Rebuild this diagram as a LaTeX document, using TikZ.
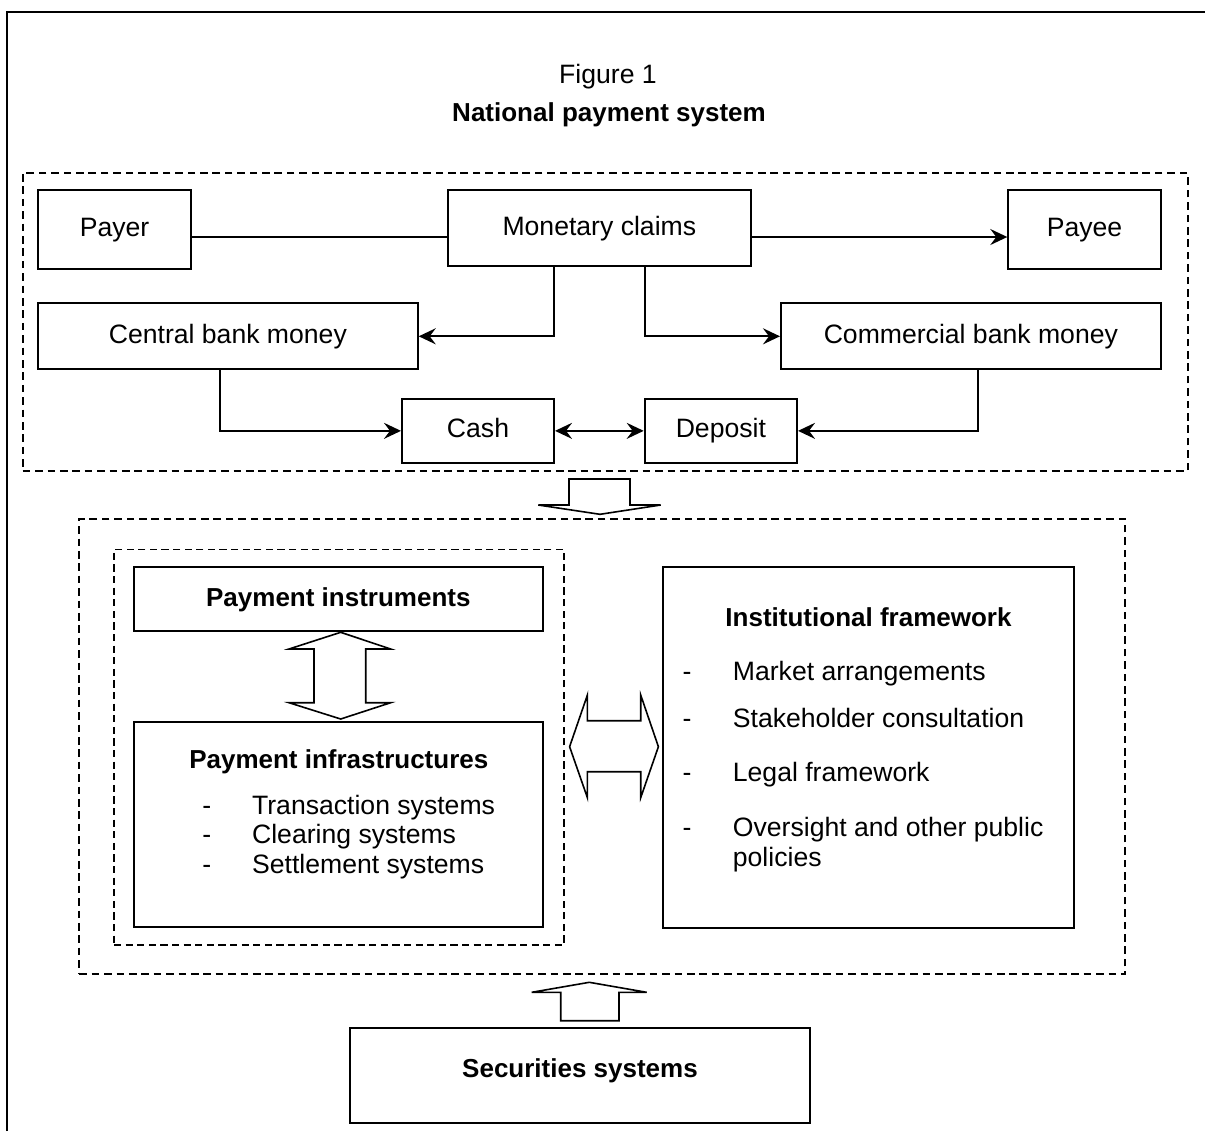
\documentclass[tikz,border=0pt]{standalone}
\usepackage{fontspec}
\setmainfont{Liberation Sans}
\usetikzlibrary{arrows.meta,fit}
\newcommand\fsreg{\fontsize{13.3pt}{16pt}\selectfont\mdseries}
\newcommand\fsbold{\fontsize{13pt}{16pt}\selectfont\bfseries}
\begin{document}
\begin{tikzpicture}[x=0.5pt,y=-0.5pt,
  box/.style={draw, line width=1pt, inner sep=0pt, font=\fsreg, text height=9.6pt, text depth=2.6pt, align=center},
  bbox/.style={box, font=\fsbold},
  frm/.style={draw, line width=1pt, inner sep=0pt},
  grp/.style={draw, line width=1pt, dash pattern=on 3.8pt off 2.4pt, inner sep=0pt},
  igrp/.style={draw, line width=0.8pt, dash pattern=on 3.6pt off 2.2pt, inner sep=0pt},
  conn/.style={line width=1pt},
  tip/.tip={Stealth[length=8.5pt,width=8pt,inset=3pt]},
  arr/.style={conn, -tip},
  dbl/.style={conn, tip-tip},
  blk/.style={draw, line width=0.8pt, line join=miter, fill=white},
  txt/.style={inner sep=0pt, font=\fsreg},
  btxt/.style={inner sep=0pt, font=\fsbold}]
\useasboundingbox (0,0) rectangle (1205,1131);
% outer frame
\draw[line width=1.2pt] (7,1131) -- (7,12) -- (1205,12);
% titles
\node[txt, anchor=base] (fig) at (608,83) {Figure 1};
\node[btxt, anchor=base] (ttl) at (609,121) {National payment system};
% top group
\node[grp, fit={(22.7,173) (1187.7,470.7)}] (top) {};
\node[box, minimum width=76.5pt, minimum height=39.5pt] (Payer) at (114.5,229.5) {Payer};
\node[box, minimum width=151.65pt, minimum height=38pt] (Monetary) at (599.35,228) {Monetary claims};
\node[box, minimum width=76.2pt, minimum height=39.5pt] (Payee) at (1084.5,229.5) {Payee};
\node[box, minimum width=189.85pt, minimum height=33pt] (CBM) at (227.85,336.3) {Central bank money};
\node[box, minimum width=189.85pt, minimum height=33pt] (ComBM) at (970.85,336.3) {Commercial bank money};
\node[box, minimum width=76pt, minimum height=31.85pt] (Cash) at (478,430.85) {Cash};
\node[box, minimum width=76.15pt, minimum height=31.85pt] (Deposit) at (720.85,430.85) {Deposit};
\coordinate (ly) at (0,237);
\coordinate (mx1) at (554,0);
\coordinate (mx2) at (645,0);
\coordinate (cx1) at (220,0);
\coordinate (cx2) at (978,0);
\draw[conn] (Payer.east |- ly) -- (Monetary.west |- ly);
\draw[arr] (Monetary.east |- ly) -- (Payee.west |- ly);
\draw[arr] (Monetary.south -| mx1) |- (CBM.east);
\draw[arr] (Monetary.south -| mx2) |- (ComBM.west);
\draw[arr] (CBM.south -| cx1) |- (Cash.west);
\draw[arr] (ComBM.south -| cx2) |- (Deposit.east);
\draw[dbl] (Cash.east) -- (Deposit.west);
% down block arrow
\draw[blk] (569,479) -- (630,479) -- (630,505) -- (660.7,505) -- (600,514.3) -- (538.3,505) -- (569,505) -- cycle;
% middle group
\node[grp, fit={(79.3,519) (1125.3,974.3)}] (mid) {};
\node[igrp, fit={(114,549.3) (564,945)}] (inner) {};
\node[bbox, minimum width=204.35pt, minimum height=31.7pt] (PI) at (338.35,599) {Payment instruments};
\node[frm, fit={(134,722) (542.7,926.7)}] (PInf) {};
\node[btxt, anchor=base] (PInfT) at (338.8,768.3) {Payment infrastructures};
\node[txt, anchor=base] (d1) at (206.7,814) {-};
\node[txt, anchor=base west] (t1) at (251.7,814) {Transaction systems};
\node[txt, anchor=base] (d2) at (206.7,843.3) {-};
\node[txt, anchor=base west] (t2) at (251.7,843.3) {Clearing systems};
\node[txt, anchor=base] (d3) at (206.7,873.3) {-};
\node[txt, anchor=base west] (t3) at (251.7,873.3) {Settlement systems};
% vertical double block arrow
\draw[blk] (340.7,632.3) -- (390.7,649) -- (365.7,649) -- (365.7,702.7) -- (390.7,702.7) -- (340.7,719) -- (289,702.7) -- (314,702.7) -- (314,649) -- (289,649) -- cycle;
% horizontal double block arrow
\draw[blk] (569.6,746.7) -- (587.4,695) -- (587.4,720.7) -- (640.7,720.7) -- (640.7,695) -- (658.4,746.7) -- (640.7,797.7) -- (640.7,771.7) -- (587.4,771.7) -- (587.4,797.7) -- cycle;
% institutional framework
\node[frm, fit={(662.7,567.3) (1073.8,927.7)}] (Inst) {};
\node[btxt, anchor=base] (InstT) at (868.5,626.7) {Institutional framework};
\node[txt, anchor=base] (e1) at (687,680.7) {-};
\node[txt, anchor=base west] (u1) at (732.5,680.7) {Market arrangements};
\node[txt, anchor=base] (e2) at (687,727.3) {-};
\node[txt, anchor=base west] (u2) at (732.5,727.3) {Stakeholder consultation};
\node[txt, anchor=base] (e3) at (687,781.7) {-};
\node[txt, anchor=base west] (u3) at (732.5,781.7) {Legal framework};
\node[txt, anchor=base] (e4) at (687,836.7) {-};
\node[txt, anchor=base west] (u4) at (732.5,836.7) {Oversight and other public};
\node[txt, anchor=base west] (u5) at (732.5,866.7) {policies};
% up block arrow
\draw[blk] (589.3,982.3) -- (646.7,992.3) -- (619,992.3) -- (619,1020.7) -- (560.7,1020.7) -- (560.7,992.3) -- (531.7,992.3) -- cycle;
% securities
\node[frm, fit={(350,1028.3) (810,1122.7)}] (Sec) {};
\node[btxt, anchor=base] (SecT) at (580,1077) {Securities systems};
\end{tikzpicture}
\end{document}
